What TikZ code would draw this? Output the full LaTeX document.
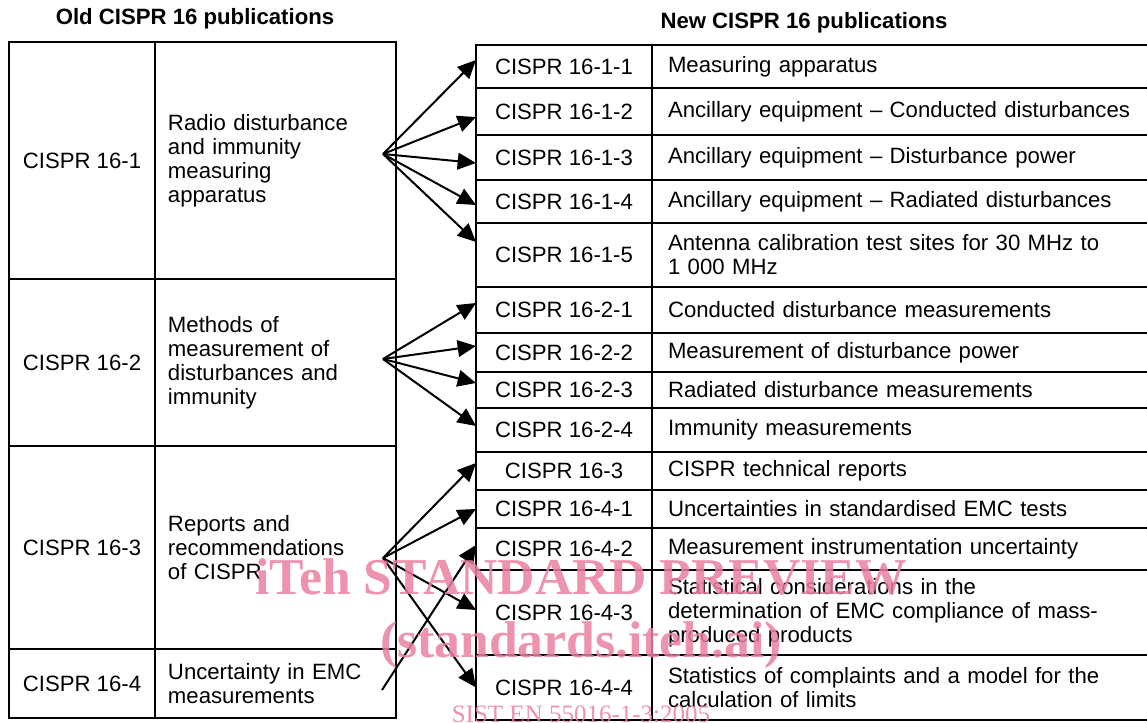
\documentclass[tikz,border=0pt]{standalone}
\usepackage{fontspec}
\setmainfont{Liberation Sans}
\newfontfamily\wmfont{Liberation Serif}
\usetikzlibrary{positioning,arrows.meta}
\definecolor{wmpink}{RGB}{234,128,160}
\tikzset{
	cell/.style={draw, line width=0.9pt, outer sep=0pt, inner ysep=0pt, font=\fontsize{13.3}{14.4}\selectfont},
	oldid/.style={cell, align=center, minimum width=87.6pt},
	olddesc/.style={cell, align=left, inner xsep=7.8pt, text width=129pt},
	newid/.style={cell, align=center, minimum width=105.6pt},
	newdesc/.style={cell, align=left, inner xsep=9.6pt, text width=279.6pt},
	head/.style={font=\fontsize{13.3}{14.4}\selectfont\bfseries},
	link/.style={->, line width=1.2pt},
	wm/.style={text=wmpink, text opacity=0.85, anchor=base}
}

\begin{document}
\begin{tikzpicture}[x=0.6pt, y=-0.6pt, node distance=0pt, >={Triangle[length=11pt,width=10pt]}]
	\useasboundingbox (0,0) rectangle (1147,723);

	\node (oldh)[head] at (195,19) {Old CISPR 16 publications};
	\node (newh)[head] at (804,23) {New CISPR 16 publications};

	% old publications
	\node (o1)[oldid, minimum height=142.2pt, anchor=north west] at (9,42) {CISPR 16-1};
	\node (d1)[olddesc, minimum height=142.2pt, right=of o1] {Radio disturbance\\and immunity\\measuring\\apparatus};

	\node (o2)[oldid, minimum height=100.2pt, below=of o1] {CISPR 16-2};
	\node (d2)[olddesc, minimum height=100.2pt, right=of o2] {Methods of\\measurement of\\disturbances and\\immunity};

	\node (o3)[oldid, minimum height=121.8pt, below=of o2] {CISPR 16-3};
	\node (d3)[olddesc, minimum height=121.8pt, right=of o3] {Reports and\\recommendations\\of CISPR};

	\node (o4)[oldid, minimum height=41.4pt, below=of o3] {CISPR 16-4};
	\node (d4)[olddesc, minimum height=41.4pt, right=of o4] {Uncertainty in EMC\\measurements};

	% new publications
	\node (n11)[newid, minimum height=25.8pt, anchor=north west] at (476,45) {CISPR 16-1-1};
	\node (t11)[newdesc, minimum height=25.8pt, right=of n11] {Measuring apparatus};

	\node (n12)[newid, minimum height=28.2pt, below=of n11] {CISPR 16-1-2};
	\node (t12)[newdesc, minimum height=28.2pt, right=of n12] {Ancillary equipment -- Conducted disturbances};

	\node (n13)[newid, minimum height=27pt, below=of n12] {CISPR 16-1-3};
	\node (t13)[newdesc, minimum height=27pt, right=of n13] {Ancillary equipment -- Disturbance power};

	\node (n14)[newid, minimum height=25.8pt, below=of n13] {CISPR 16-1-4};
	\node (t14)[newdesc, minimum height=25.8pt, right=of n14] {Ancillary equipment -- Radiated disturbances};

	\node (n15)[newid, minimum height=38.4pt, below=of n14] {CISPR 16-1-5};
	\node (t15)[newdesc, minimum height=38.4pt, right=of n15] {Antenna calibration test sites for 30 MHz to\\1 000 MHz};

	\node (n21)[newid, minimum height=27.6pt, below=of n15] {CISPR 16-2-1};
	\node (t21)[newdesc, minimum height=27.6pt, right=of n21] {Conducted disturbance measurements};

	\node (n22)[newid, minimum height=23.4pt, below=of n21] {CISPR 16-2-2};
	\node (t22)[newdesc, minimum height=23.4pt, right=of n22] {Measurement of disturbance power};

	\node (n23)[newid, minimum height=21.6pt, below=of n22] {CISPR 16-2-3};
	\node (t23)[newdesc, minimum height=21.6pt, right=of n23] {Radiated disturbance measurements};

	\node (n24)[newid, minimum height=26.4pt, below=of n23] {CISPR 16-2-4};
	\node (t24)[newdesc, minimum height=26.4pt, right=of n24] {Immunity measurements};

	\node (n3)[newid, minimum height=22.8pt, below=of n24] {CISPR 16-3};
	\node (t3)[newdesc, minimum height=22.8pt, right=of n3] {CISPR technical reports};

	\node (n41)[newid, minimum height=22.8pt, below=of n3] {CISPR 16-4-1};
	\node (t41)[newdesc, minimum height=22.8pt, right=of n41] {Uncertainties in standardised EMC tests};

	\node (n42)[newid, minimum height=25.2pt, below=of n41] {CISPR 16-4-2};
	\node (t42)[newdesc, minimum height=25.2pt, right=of n42] {Measurement instrumentation uncertainty};

	\node (n43)[newid, minimum height=51pt, below=of n42] {CISPR 16-4-3};
	\node (t43)[newdesc, minimum height=51pt, right=of n43] {Statistical considerations in the\\determination of EMC compliance of mass-\\produced products};

	\node (n44)[newid, minimum height=39pt, below=of n43] {CISPR 16-4-4};
	\node (t44)[newdesc, minimum height=39pt, right=of n44] {Statistics of complaints and a model for the\\calculation of limits};

	% arrows
	\coordinate (s1) at (383,154);
	\coordinate (s2) at (383,359);
	\coordinate (s3) at (383,558);
	\coordinate (s4) at (382,690);

	\draw [link](s1) to ([yshift=3.9pt]n11.west);
	\draw [link](s1) to ([yshift=-3.3pt]n12.west);
	\draw [link](s1) to ([yshift=-3.3pt]n13.west);
	\draw [link](s1) to ([yshift=-2.1pt]n14.west);
	\draw [link](s1) to ([yshift=7.8pt]n15.west);

	\draw [link](s2) to ([yshift=4.2pt]n21.west);
	\draw [link](s2) to ([yshift=3.9pt]n22.west);
	\draw [link](s2) to ([yshift=4.2pt]n23.west);
	\draw [link](s2) to ([yshift=2.4pt]n24.west);

	\draw [link](s3) to ([yshift=4.8pt]n3.west);
	\draw [link](s3) to (n41.west);
	\draw [link](s3) to ([yshift=1.5pt]n43.west);
	\draw [link](s3) to (n44.west);

	\draw [link](s4) to ([yshift=2.4pt]n42.west);

	% watermark
	\node (wm1)[wm, font=\wmfont\fontsize{31}{31}\selectfont\bfseries] at (581,595) {iTeh STANDARD PREVIEW};
	\node (wm2)[wm, font=\wmfont\fontsize{31}{31}\selectfont\bfseries] at (581,658) {(standards.iteh.ai)};
	\node (wm3)[wm, font=\wmfont\fontsize{15}{15}\selectfont] at (581,723) {SIST EN 55016-1-3:2005};
\end{tikzpicture}
\end{document}
